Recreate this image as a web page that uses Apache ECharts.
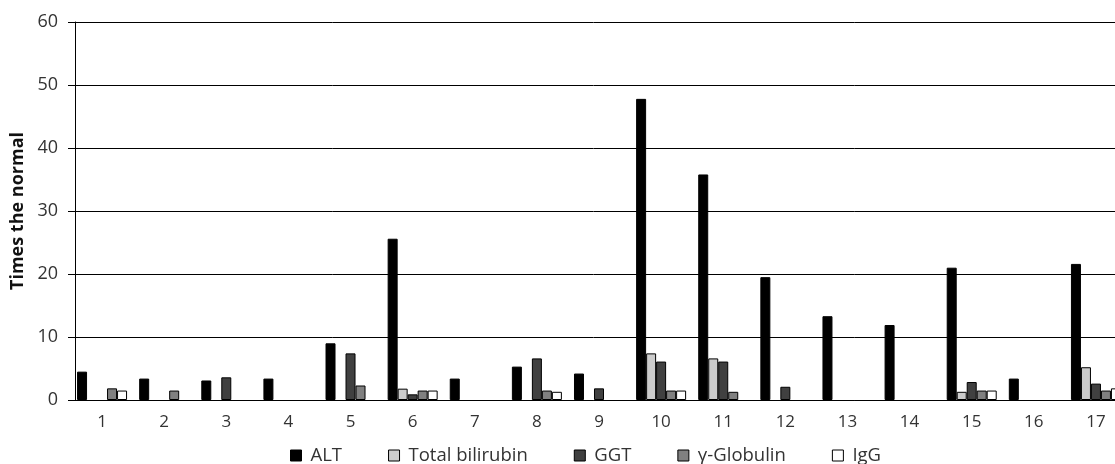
<!DOCTYPE html>
<html>
<head>
<meta charset="utf-8">
<script src="https://cdn.jsdelivr.net/npm/echarts@6/dist/echarts.min.js"></script>
<style>
  html, body { margin: 0; padding: 0; background: #fff; }
  #chart { width: 1115px; height: 464px; }
</style>
</head>
<body>
<div id="chart"></div>
<script>
const categories = ["1", "2", "3", "4", "5", "6", "7", "8", "9", "10", "11", "12", "13", "14", "15", "16", "17"];
const seriesNames = ["ALT", "Total bilirubin", "GGT", "γ-Globulin", "IgG"];
const alt = [4.5, 3.4, 3.1, 3.4, 9.0, 25.6, 3.4, 5.3, 4.2, 47.8, 35.8, 19.5, 13.3, 11.9, 21.0, 3.4, 21.6];
const bilirubin = [0, 0, 0, 0, 0, 1.8, 0, 0, 0, 7.4, 6.6, 0, 0, 0, 1.3, 0, 5.2];
const ggt = [0, 0, 3.6, 0, 7.4, 0.9, 0, 6.6, 1.85, 6.1, 6.1, 2.1, 0, 0, 2.85, 0, 2.6];
const globulin = [1.85, 1.5, 0, 0, 2.3, 1.5, 0, 1.5, 0, 1.5, 1.3, 0, 0, 0, 1.5, 0, 1.5];
const igg = [1.5, 0, 0, 0, 0, 1.5, 0, 1.3, 0, 1.5, 0, 0, 0, 0, 1.5, 0, 1.85];
const yTicks = [0, 10, 20, 30, 40, 50, 60];

const colors = ["#000000", "#cccccc", "#404040", "#808080", "#ffffff"];
const allData = [alt, bilirubin, ggt, globulin, igg];
const fontFamily = "'Open Sans', sans-serif";

const chart = echarts.init(document.getElementById("chart"));

const series = seriesNames.map((name, i) => ({
  name: name,
  type: "bar",
  barGap: "0%",
  barCategoryGap: "19.5%",
  data: allData[i].map((v) => (v === 0 ? null : v)),
  itemStyle: {
    color: colors[i],
    borderColor: "#000",
    borderWidth: 1,
  },
  emphasis: { disabled: true },
}));

chart.setOption({
  animation: false,
  color: colors,
  // plot runs past the right edge, as in the reference (group 17 is clipped);
  // groups sit a little left of the band centre, so the grid starts 4px before the y axis line
  grid: { left: 71, top: 22, width: 1056, bottom: 64, outerBoundsMode: "none" },
  legend: {
    left: 285,
    top: 441,
    itemWidth: 11,
    itemHeight: 11,
    itemGap: 46,
    icon: "rect",
    data: seriesNames.map((n, i) => ({
      name: n,
      itemStyle: { color: colors[i], borderColor: "#000", borderWidth: 1 },
    })),
    textStyle: { fontFamily: fontFamily, fontSize: 18.5, color: "#333", padding: [0, 0, 0, 4] },
  },
  xAxis: {
    type: "category",
    data: categories,
    axisLine: { lineStyle: { color: "#000", width: 1 } },
    axisTick: { show: false },
    axisLabel: { fontFamily: fontFamily, fontSize: 17, color: "#333", margin: 14 },
  },
  yAxis: {
    type: "value",
    min: yTicks[0],
    max: yTicks[yTicks.length - 1],
    interval: 10,
    offset: -4,
    name: "Times the normal",
    nameLocation: "middle",
    nameGap: 48,
    nameTextStyle: { fontFamily: fontFamily, fontSize: 18, fontWeight: "bold", color: "#111" },
    axisLine: { show: true, lineStyle: { color: "#000", width: 1 } },
    axisTick: { show: true, length: 7, lineStyle: { color: "#000" } },
    axisLabel: { fontFamily: fontFamily, fontSize: 18, color: "#333", margin: 17 },
    splitLine: { show: true, lineStyle: { color: "#000", width: 1 } },
  },
  series: series,
});
</script>
</body>
</html>
